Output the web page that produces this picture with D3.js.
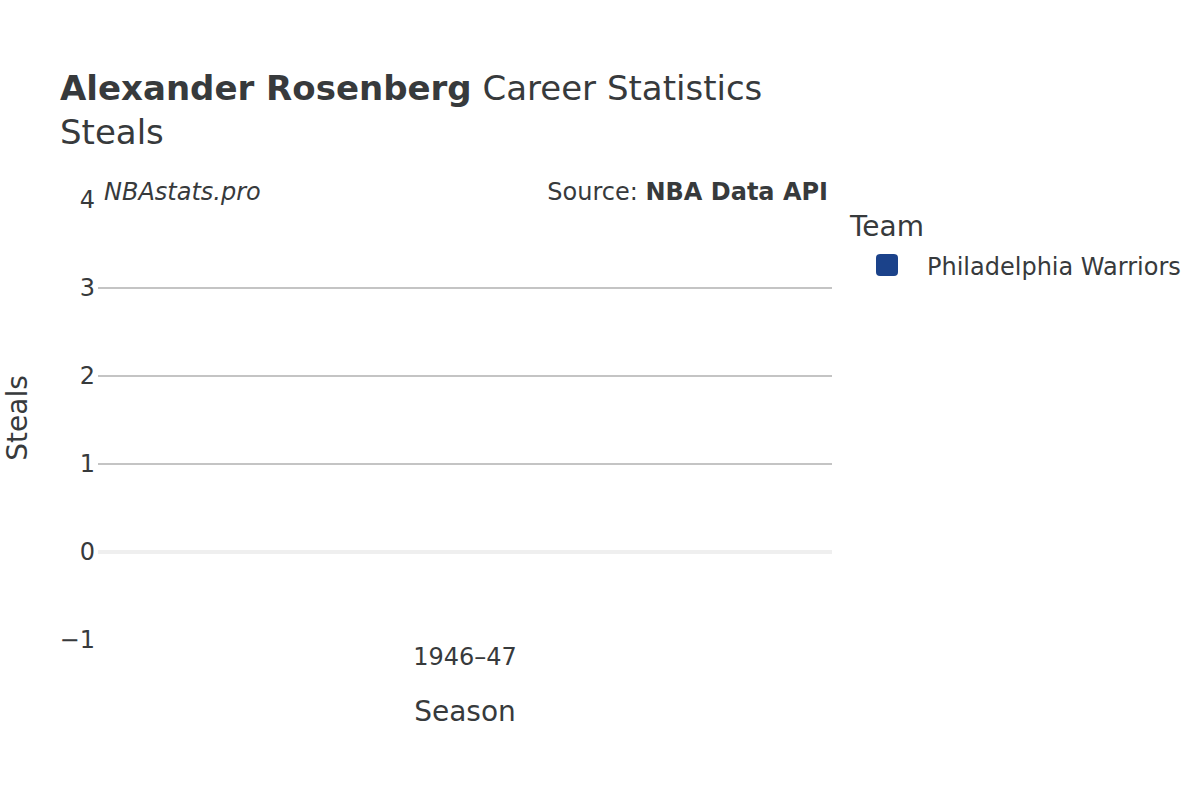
<!DOCTYPE html>
<html>
<head>
<meta charset="utf-8">
<script src="https://cdn.jsdelivr.net/npm/d3@7"></script>
<style>
  body { margin: 0; background: #fff; }
  text { font-family: "DejaVu Sans", sans-serif; fill: #373a3c; }
</style>
</head>
<body>
<div id="chart"></div>
<script>
// Chart data
var seasons = ['1946–47'];
var teams = ['Philadelphia Warriors'];
var steals = [0];
var teamColors = ['#1b428a'];
var yTicks = [-1, 0, 1, 2, 3, 4];

var width = 1200, height = 800;
var plot = { left: 98, right: 832, top: 200, bottom: 640 };

var svg = d3.select('#chart')
  .append('svg')
    .attr('width', width)
    .attr('height', height);

var x = d3.scaleBand()
  .domain(seasons)
  .range([plot.left, plot.right])
  .padding(0.2);

var y = d3.scaleLinear()
  .domain([-1, 4])
  .range([plot.bottom, plot.top]);

// gridlines
svg.append('g').selectAll('line')
  .data(yTicks.filter(function(d){ return d > 0 && d < 4; }))
  .enter().append('line')
    .attr('x1', plot.left).attr('x2', plot.right)
    .attr('y1', function(d){ return y(d); })
    .attr('y2', function(d){ return y(d); })
    .attr('stroke', '#c4c4c4')
    .attr('stroke-width', 2);

// zero line
svg.append('line')
  .attr('x1', plot.left).attr('x2', plot.right)
  .attr('y1', y(0)).attr('y2', y(0))
  .attr('stroke', '#efefef')
  .attr('stroke-width', 4);

// y axis labels
var yAxis = d3.axisLeft(y)
  .tickValues(yTicks)
  .tickSize(0)
  .tickPadding(3)
  .tickFormat(d3.format('d'));
var yg = svg.append('g')
  .attr('transform', 'translate(' + plot.left + ',0)')
  .call(yAxis);
yg.select('.domain').remove();
yg.selectAll('text')
  .attr('font-size', 24)
  .attr('font-family', '"DejaVu Sans", sans-serif')
  .attr('fill', '#373a3c')
  .text(function(d){ return d < 0 ? '\u2212' + Math.abs(d) : d; });

// x axis labels
var xAxis = d3.axisBottom(x).tickSize(0).tickPadding(0);
var xg = svg.append('g')
  .attr('transform', 'translate(0,' + 648 + ')')
  .call(xAxis);
xg.select('.domain').remove();
xg.selectAll('text')
  .attr('font-size', 24)
  .attr('font-family', '"DejaVu Sans", sans-serif')
  .attr('fill', '#373a3c');

// bars
svg.append('g').selectAll('rect')
  .data(seasons)
  .enter().append('rect')
    .attr('x', function(d){ return x(d); })
    .attr('width', x.bandwidth())
    .attr('y', function(d, i){ return y(Math.max(0, steals[i])); })
    .attr('height', function(d, i){ return Math.abs(y(steals[i]) - y(0)); })
    .attr('fill', teamColors[0]);

// title
var title = svg.append('text')
  .attr('x', 60).attr('y', 100)
  .attr('font-size', 34);
title.append('tspan').attr('font-weight', 'bold').text('Alexander Rosenberg');
title.append('tspan').text(' Career Statistics');

svg.append('text')
  .attr('x', 60).attr('y', 144)
  .attr('font-size', 34)
  .text('Steals');

// watermark and source
svg.append('text')
  .attr('x', 104).attr('y', 200)
  .attr('font-size', 24)
  .attr('font-style', 'italic')
  .text('NBAstats.pro');

var source = svg.append('text')
  .attr('x', 828).attr('y', 200)
  .attr('font-size', 24)
  .attr('text-anchor', 'end');
source.append('tspan').text('Source: ');
source.append('tspan').attr('font-weight', 'bold').text('NBA Data API');

// axis titles
svg.append('text')
  .attr('x', 465).attr('y', 721)
  .attr('font-size', 28)
  .attr('text-anchor', 'middle')
  .text('Season');

svg.append('text')
  .attr('transform', 'translate(27,418) rotate(-90)')
  .attr('font-size', 28)
  .attr('text-anchor', 'middle')
  .text('Steals');

// legend
svg.append('text')
  .attr('x', 850).attr('y', 236)
  .attr('font-size', 28)
  .text('Team');

var legend = svg.append('g').selectAll('g')
  .data(teams)
  .enter().append('g')
    .attr('transform', function(d, i){ return 'translate(876,' + (254 + i * 30) + ')'; });
legend.append('rect')
  .attr('width', 22).attr('height', 22)
  .attr('rx', 4)
  .attr('fill', function(d, i){ return teamColors[i]; });
legend.append('text')
  .attr('x', 51).attr('y', 21)
  .attr('font-size', 24)
  .text(function(d){ return d; });
</script>
</body>
</html>
